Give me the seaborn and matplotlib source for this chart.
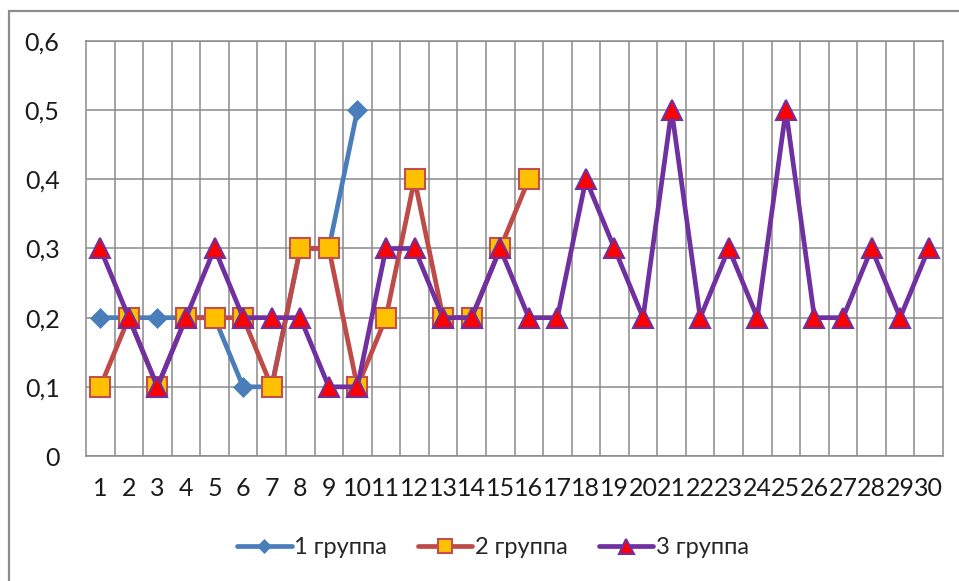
import matplotlib
matplotlib.use("Agg")
import matplotlib.pyplot as plt
from matplotlib.patches import Rectangle
from matplotlib.ticker import FixedLocator, FuncFormatter
import seaborn as sns
import pandas as pd

# Observation numbers and shares per group
categories = list(range(1, 31))
group1 = [0.2, 0.2, 0.2, 0.2, 0.2, 0.1, 0.1, 0.3, 0.3, 0.5]
group2 = [0.1, 0.2, 0.1, 0.2, 0.2, 0.2, 0.1, 0.3, 0.3, 0.1,
          0.2, 0.4, 0.2, 0.2, 0.3, 0.4]
group3 = [0.3, 0.2, 0.1, 0.2, 0.3, 0.2, 0.2, 0.2, 0.1, 0.1,
          0.3, 0.3, 0.2, 0.2, 0.3, 0.2, 0.2, 0.4, 0.3, 0.2,
          0.5, 0.2, 0.3, 0.2, 0.5, 0.2, 0.2, 0.3, 0.2, 0.3]
series_names = ["1 группа", "2 группа", "3 группа"]
y_ticks = [0, 0.1, 0.2, 0.3, 0.4, 0.5, 0.6]

sns.set_theme(style="white")
plt.rcParams["font.family"] = ["Lato", "DejaVu Sans"]

W, H = 959, 581
fig = plt.figure(figsize=(W / 100, H / 100), dpi=100)
ax = fig.add_axes([86 / W, 1 - 456 / H, (943 - 86) / W, (456 - 41) / H])

grid_col = "#8a8a8a"
fs = 17
tick_fs = 18

styles = [
    dict(color="#4A7EBB", marker="D", markersize=10.5, markerfacecolor="#4A7EBB",
         markeredgecolor="#4A7EBB", markeredgewidth=0.5),
    dict(color="#BE4B48", marker="s", markersize=14, markerfacecolor="#FFC000",
         markeredgecolor="#C0504D", markeredgewidth=1.5),
    dict(color="#7030A0", marker="^", markersize=15, markerfacecolor="#FF0000",
         markeredgecolor="#7030A0", markeredgewidth=1.5),
]

for name, values, st in zip(series_names, [group1, group2, group3], styles):
    df = pd.DataFrame({"n": categories[:len(values)], "share": values})
    sns.lineplot(data=df, x="n", y="share", ax=ax, label=name,
                 linewidth=3.4, zorder=3, clip_on=False, **st)

ax.set_xlim(0.5, 30.5)
ax.set_ylim(0, 0.6)
ax.xaxis.set_major_locator(FixedLocator(categories))
ax.xaxis.set_minor_locator(FixedLocator([c + 0.5 for c in categories[:-1]]))
ax.yaxis.set_major_locator(FixedLocator(y_ticks))
ax.yaxis.set_major_formatter(FuncFormatter(
    lambda v, p: "0" if abs(v) < 1e-9 else f"{v:.1f}".replace(".", ",")))
ax.set_xticklabels([str(c) for c in categories])

ax.grid(False)
ax.grid(True, which="minor", axis="x", color=grid_col, linewidth=1.1)
ax.grid(True, which="major", axis="y", color=grid_col, linewidth=1.1)
ax.set_axisbelow(True)
for s in ax.spines.values():
    s.set_visible(True)
    s.set_color(grid_col)
    s.set_linewidth(1.1)

ax.tick_params(axis="x", which="both", length=0, pad=15, labelsize=tick_fs,
               colors="#1a1a1a")
ax.tick_params(axis="y", which="both", length=0, pad=19, labelsize=tick_fs,
               colors="#1a1a1a")
ax.set_xlabel("")
ax.set_ylabel("")

handles, labels = ax.get_legend_handles_labels()
ax.get_legend().remove()
fig.legend(handles, labels, loc="center", bbox_to_anchor=(493 / W, 1 - 548 / H),
           ncol=3, frameon=False, fontsize=fs, handlelength=2.3,
           handletextpad=0.12, columnspacing=1.3, markerscale=0.72)

# chart area frame
fig.add_artist(Rectangle((9 / W, -0.05), 1.2, (H - 11) / H + 0.05,
                         transform=fig.transFigure, fill=False,
                         edgecolor="#8c8c8c", linewidth=1.6))

fig.savefig("out.png", dpi=100)
